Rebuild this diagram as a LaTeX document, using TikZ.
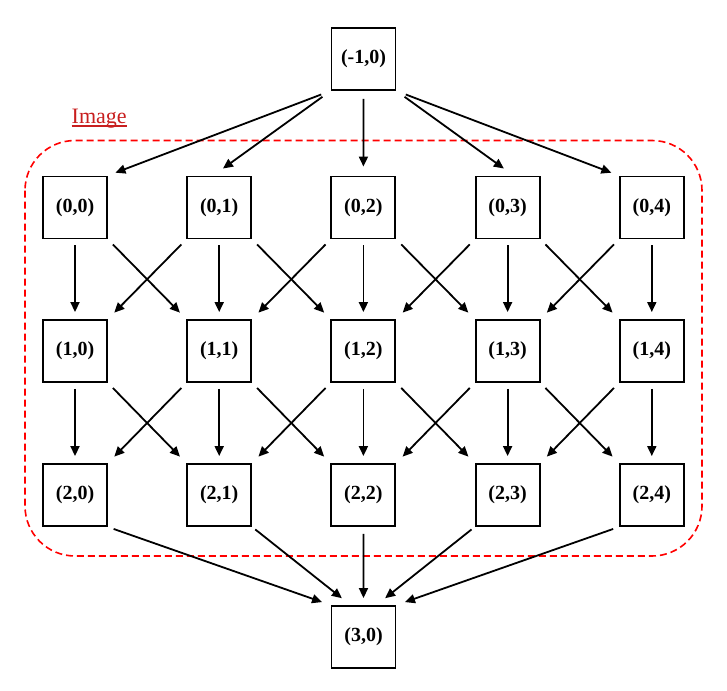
\documentclass[tikz,border=0pt]{standalone}
\usepackage{fontspec}
\setmainfont{Liberation Serif}
\usetikzlibrary{arrows.meta,calc}

\definecolor{labelred}{RGB}{200,30,30}
\definecolor{frame}{RGB}{255,0,0}

\tikzset{
  cell/.style={draw=black, line width=1.9pt, minimum width=64pt, minimum height=62pt,
    inner sep=0pt, font=\bfseries\fontsize{20}{20}\selectfont},
  link/.style={line width=1.8pt, -{Triangle[length=10pt,width=9pt]}},
  straight/.style={link, shorten <=6pt, shorten >=7pt},
  cross/.style={link, shorten <=7pt, shorten >=9pt},
}

\begin{document}
\begin{tikzpicture}[x=1pt, y=-1pt]
  \useasboundingbox (0,0) rectangle (727,690);

  % grouping frame around the 3x5 grid
  \draw[frame, line width=1.6pt, dash pattern=on 7pt off 4pt, rounded corners=50pt]
    (25,140.5) rectangle (702,556);
  \node[anchor=base west, text=labelred, inner sep=0pt, font=\fontsize{22}{22}\selectfont]
    (lbl) at (71.5,123) {Image};
  \draw[labelred, line width=1.3pt] ($(lbl.base west)+(0,3)$) -- ($(lbl.base east)+(0,3)$);

  % source and sink
  \node[cell] (top) at (363.5,59) {(-1,0)};
  \node[cell] (bot) at (363.5,637) {(3,0)};

  % the grid of cells (i,j)
  \foreach \i/\y in {0/207.5, 1/351, 2/495} {
    \foreach \j in {0,...,4} {
      \node[cell] (n\i\j) at ({75+144.2*\j},\y) {(\i,\j)};
    }
  }

  % fan-out from the source
  \draw[link, shorten <=10pt, shorten >=8pt] (top.south west) -- (n00.north east);
  \draw[link, shorten <=10pt, shorten >=12pt] (top.south west) -- ($(n01.north)+(-6,0)$);
  \draw[link, shorten <=8pt, shorten >=9pt] (top.south) -- (n02.north);
  \draw[link, shorten <=10pt, shorten >=12pt] (top.south east) -- ($(n03.north)+(6,0)$);
  \draw[link, shorten <=10pt, shorten >=8pt] (top.south east) -- (n04.north west);

  % grid edges: straight down and to both neighbours
  \foreach \i/\k in {0/1, 1/2} {
    \foreach \j in {0,...,4} {
      \draw[straight] (n\i\j.south) -- (n\k\j.north);
    }
    \foreach \j/\m in {0/1, 1/2, 2/3, 3/4} {
      \draw[cross] (n\i\j.south east) -- (n\k\m.north west);
      \draw[cross] (n\i\m.south west) -- (n\k\j.north east);
    }
  }

  % fan-in to the sink
  \draw[link, shorten <=6pt, shorten >=9pt] (n20.south east) -- (bot.north west);
  \draw[link, shorten <=4pt, shorten >=11pt] (n21.south east) -- ($(bot.north)+(-13,0)$);
  \draw[link, shorten <=7pt, shorten >=7pt] (n22.south) -- (bot.north);
  \draw[link, shorten <=4pt, shorten >=11pt] (n23.south west) -- ($(bot.north)+(13,0)$);
  \draw[link, shorten <=6pt, shorten >=9pt] (n24.south west) -- (bot.north east);
\end{tikzpicture}
\end{document}
